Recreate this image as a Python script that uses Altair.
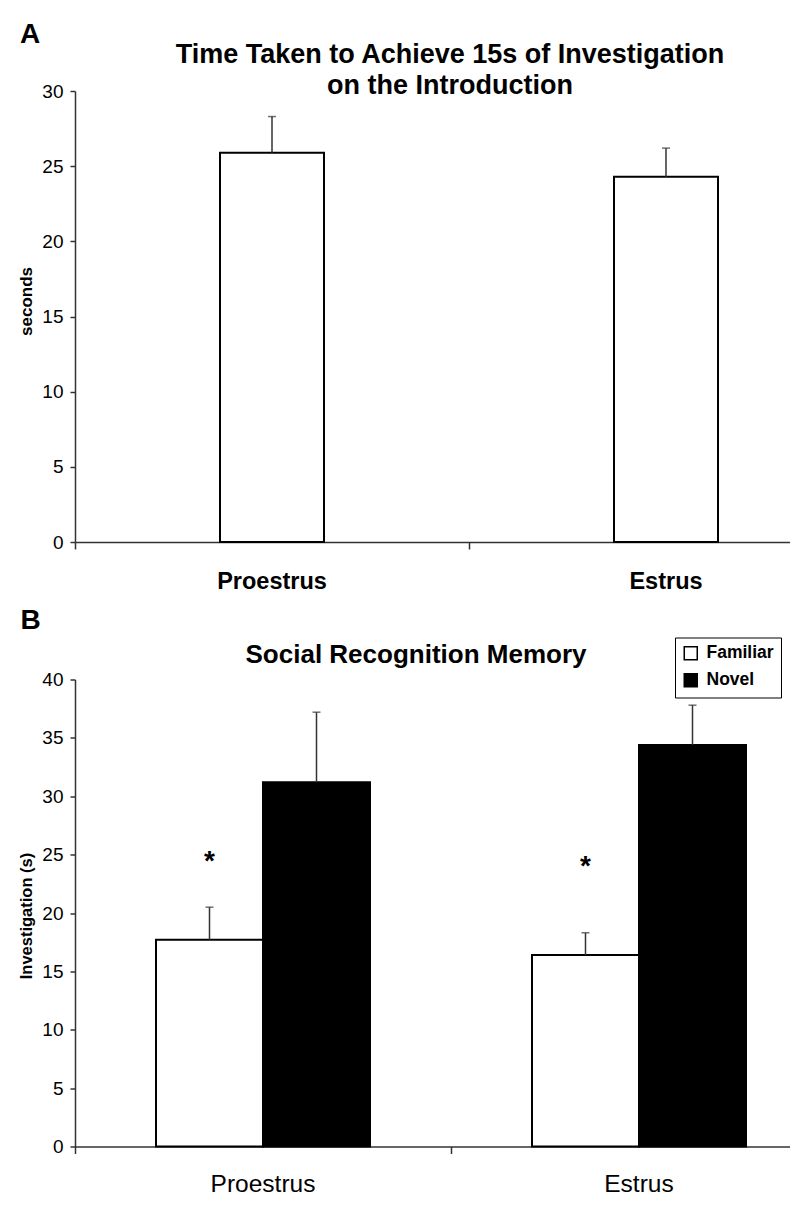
import altair as alt
import pandas as pd

FONT = "Liberation Sans"

# ---------------- Panel A data ----------------
phases = ["Proestrus", "Estrus"]
time_mean = [25.9, 24.3]
time_upper = [28.3, 26.2]
y_ticks_a = [0, 5, 10, 15, 20, 25, 30]
title_a = ["Time Taken to Achieve 15s of Investigation", "on the Introduction"]
ytitle_a = "seconds"

# ---------------- Panel B data ----------------
stimuli = ["Familiar", "Novel"]
familiar_mean = [17.7, 16.4]
familiar_upper = [20.5, 18.3]
novel_mean = [31.2, 34.4]
novel_upper = [37.2, 37.8]
star_level = [24.7, 24.2]
star_text = ["*", "*"]
y_ticks_b = [0, 5, 10, 15, 20, 25, 30, 35, 40]
title_b = "Social Recognition Memory"
ytitle_b = "Investigation (s)"
panel_letters = ["A", "B"]

dfA = pd.DataFrame({"phase": phases, "mean": time_mean, "upper": time_upper})
dfB = pd.DataFrame({
    "phase": phases + phases,
    "stimulus": [stimuli[0]] * 2 + [stimuli[1]] * 2,
    "mean": familiar_mean + novel_mean,
    "upper": familiar_upper + novel_upper,
})
dfStar = pd.DataFrame({"phase": phases, "stimulus": [stimuli[0]] * 2,
                       "level": star_level, "mark": star_text})
one = pd.DataFrame({"k": [0]})

HA = 451
HB = 467
STEP_A = 394
STEP_B = 376
GRAY = "#333333"


def x_enc(size, weight, pad):
    return alt.X(
        "phase:N", sort=phases, title=None,
        scale=alt.Scale(domain=phases, paddingInner=0, paddingOuter=0),
        axis=alt.Axis(domain=True, domainColor=GRAY, domainWidth=1.5,
                      bandPosition=0, labelAngle=0,
                      tickSize=7, tickColor=GRAY, tickWidth=1.5,
                      labelFont=FONT, labelFontSize=size, labelFontWeight=weight,
                      labelColor="black", labelPadding=pad, labelBaseline="top"),
    )


def y_enc(field, ticks, top, title, title_y, title_size):
    return alt.Y(
        f"{field}:Q", title=title,
        scale=alt.Scale(domain=[0, top], nice=False, zero=True),
        axis=alt.Axis(values=ticks, grid=False, domainColor=GRAY, domainWidth=1.5,
                      tickColor=GRAY, tickWidth=1.5, tickSize=5,
                      labelFont=FONT, labelFontSize=19, labelColor="black", labelPadding=7,
                      titleFont=FONT, titleFontSize=title_size, titleFontWeight="bold",
                      titleColor="black", titleX=-49, titleY=title_y,
                      titleBaseline="middle", titleAlign="center"),
    )


# ---------------- Panel A ----------------
xa = x_enc(23.5, "bold", 20)


def ya(f):
    return y_enc(f, y_ticks_a, 30, ytitle_a, 210, 17)


baseA = alt.Chart(dfA)
barsA = baseA.mark_bar(width=104, fill="white", stroke="black", strokeWidth=2).encode(x=xa, y=ya("mean"))
errA = baseA.mark_rule(color=GRAY, strokeWidth=1.5).encode(x=xa, y=ya("mean"), y2="upper:Q")
capA = baseA.mark_tick(color=GRAY, thickness=1.5, size=8, orient="horizontal").encode(x=xa, y=ya("upper"))
letterA = alt.Chart(one).mark_text(text=panel_letters[0], font=FONT, fontSize=28, fontWeight="bold",
                                   align="center", baseline="middle", color="black").encode(
    x=alt.value(-45), y=alt.value(-56))
titleA = alt.Chart(one).mark_text(text=title_a, font=FONT, fontSize=27, fontWeight="bold",
                                  align="center", baseline="alphabetic", lineHeight=31,
                                  color="black").encode(x=alt.value(375), y=alt.value(-28))

chartA = alt.layer(barsA, errA, capA, letterA, titleA).properties(width=2 * STEP_A, height=HA)

# ---------------- Panel B ----------------
xb = x_enc(24.5, "normal", 19)
xo = alt.XOffset("stimulus:N", sort=stimuli,
                 scale=alt.Scale(domain=stimuli, paddingInner=0, paddingOuter=0.757))


def yb(f):
    return y_enc(f, y_ticks_b, 40, ytitle_b, 236, 16.5)


color = alt.Color(
    "stimulus:N",
    scale=alt.Scale(domain=stimuli, range=["white", "black"]),
    legend=alt.Legend(title=None, orient="none", legendX=600, legendY=-42,
                      symbolType="square", symbolSize=169, symbolStrokeColor="black",
                      symbolStrokeWidth=1.5, labelFont=FONT, labelFontSize=17.5,
                      labelFontWeight="bold", labelColor="black", labelOffset=7,
                      strokeColor="black", fillColor="white", padding=7, rowPadding=7),
)

baseB = alt.Chart(dfB)
barsB = baseB.mark_bar(stroke="black", strokeWidth=2, opacity=1).encode(
    x=xb, xOffset=xo, y=yb("mean"), color=color)
errB = baseB.mark_rule(color=GRAY, strokeWidth=1.5).encode(
    x=xb, xOffset=xo, y=yb("mean"), y2="upper:Q")
capB = baseB.mark_tick(color=GRAY, thickness=1.5, size=8, orient="horizontal").encode(
    x=xb, xOffset=xo, y=yb("upper"))
starsB = alt.Chart(dfStar).mark_text(font=FONT, fontSize=28, fontWeight="bold", baseline="middle",
                                     align="center", dy=3.5, color="black").encode(
    x=xb, xOffset=xo, y=yb("level"), text="mark:N")
letterB = alt.Chart(one).mark_text(text=panel_letters[1], font=FONT, fontSize=28, fontWeight="bold",
                                   align="center", baseline="middle", color="black").encode(
    x=alt.value(-44.5), y=alt.value(-58.5))
titleB = alt.Chart(one).mark_text(text=title_b, font=FONT, fontSize=26, fontWeight="bold",
                                  align="center", baseline="alphabetic", color="black").encode(
    x=alt.value(341), y=alt.value(-17))

chartB = alt.layer(barsB, errB, capB, starsB, letterB, titleB).properties(width=2 * STEP_B, height=HB)

chart = (
    alt.vconcat(chartA, chartB, spacing=13.5)
    .resolve_scale(x="independent", y="independent", color="independent", xOffset="independent")
    .resolve_legend(color="independent")
    .properties(padding={"left": 9, "top": 13, "right": -73, "bottom": 0})
    .configure(font=FONT)
    .configure_view(stroke=None)
)

chart.save("out.html", embed_options={"renderer": "svg", "actions": False})
